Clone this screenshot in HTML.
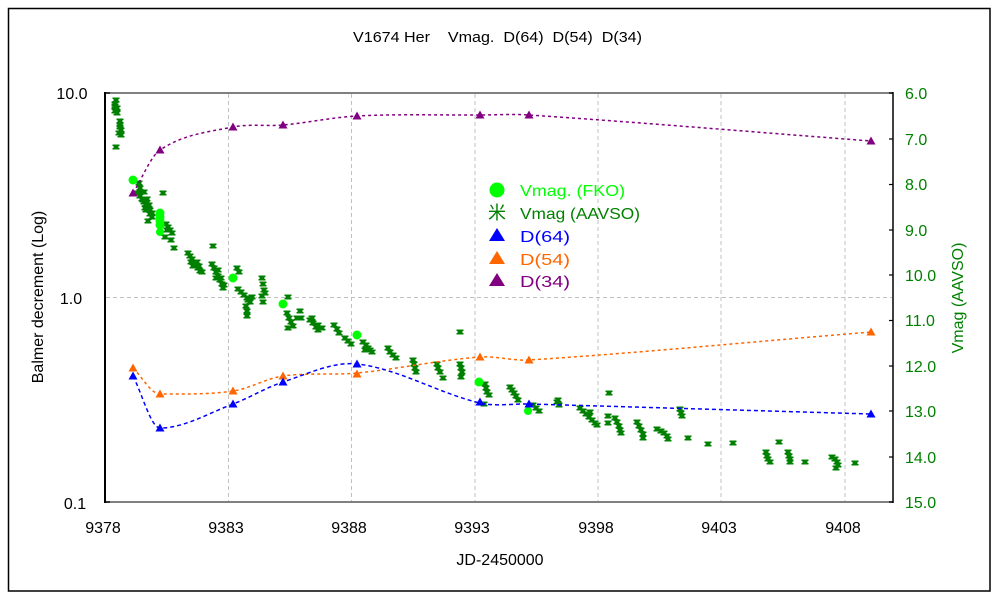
<!DOCTYPE html>
<html>
<head>
<meta charset="utf-8">
<style>
html,body{margin:0;padding:0;background:#fff;}
svg{display:block;}
text{font-family:"Liberation Sans","Noto Sans CJK JP",sans-serif;}
</style>
</head>
<body>
<svg width="1000" height="600" viewBox="0 0 1000 600" xmlns="http://www.w3.org/2000/svg">
<defs>
<g id="m"><path d="M-3.5 -2.5h7v1.5h-1v2h1v1.5h-7v-1.5h1v-2h-1z"/></g>
<g id="t"><path d="M0 -4.5L4.5 3.5H-4.5Z"/></g>
</defs>
<rect x="0" y="0" width="1000" height="600" fill="#fff"/>
<rect x="8.5" y="8.5" width="981.5" height="582.5" fill="none" stroke="#000" stroke-width="1.5"/>

<!-- title -->
<text x="353" y="42" font-size="15" textLength="289" lengthAdjust="spacingAndGlyphs" style="white-space:pre" fill="#000">V1674 Her    Vmag.  D(64)  D(54)  D(34)</text>

<!-- gridlines -->
<g stroke="#c0c0c0" stroke-width="1" stroke-dasharray="4 3">
<line x1="228.5" y1="94" x2="228.5" y2="501"/>
<line x1="351.5" y1="94" x2="351.5" y2="501"/>
<line x1="475" y1="94" x2="475" y2="501"/>
<line x1="598" y1="94" x2="598" y2="501"/>
<line x1="721" y1="94" x2="721" y2="501"/>
<line x1="845" y1="94" x2="845" y2="501"/>
<line x1="106" y1="297.5" x2="892" y2="297.5"/>
</g>

<!-- frame -->
<line x1="105" y1="93" x2="893" y2="93" stroke="#808080" stroke-width="2"/>
<line x1="105" y1="502" x2="893" y2="502" stroke="#808080" stroke-width="2"/>
<line x1="105" y1="92" x2="105" y2="503" stroke="#000" stroke-width="2"/>
<line x1="893" y1="92" x2="893" y2="503" stroke="#000" stroke-width="1.5"/>
<g stroke="#000" stroke-width="1.2">
<line x1="106" y1="93" x2="110" y2="93"/>
<line x1="106" y1="502" x2="110" y2="502"/>
<line x1="889" y1="93" x2="893" y2="93"/>
<line x1="889" y1="139" x2="893" y2="139"/>
<line x1="889" y1="184.5" x2="893" y2="184.5"/>
<line x1="889" y1="230" x2="893" y2="230"/>
<line x1="889" y1="275" x2="893" y2="275"/>
<line x1="889" y1="320.5" x2="893" y2="320.5"/>
<line x1="889" y1="366" x2="893" y2="366"/>
<line x1="889" y1="411" x2="893" y2="411"/>
<line x1="889" y1="457" x2="893" y2="457"/>
<line x1="889" y1="502" x2="893" y2="502"/>
</g>

<!-- left tick labels -->
<g font-size="16" fill="#000" text-anchor="middle">
<text x="72" y="99">10.0</text>
<text x="71" y="304">1.0</text>
<text x="75" y="509">0.1</text>
</g>
<!-- bottom tick labels -->
<g font-size="16" fill="#000" text-anchor="middle">
<text x="103" y="533">9378</text>
<text x="226" y="533">9383</text>
<text x="349" y="533">9388</text>
<text x="472" y="533">9393</text>
<text x="596" y="533">9398</text>
<text x="719" y="533">9403</text>
<text x="843" y="533">9408</text>
</g>
<text x="500" y="565" font-size="16" text-anchor="middle" fill="#000">JD-2450000</text>
<text transform="translate(43,297) rotate(-90)" font-size="16" text-anchor="middle" fill="#000">Balmer decrement (Log)</text>

<!-- right tick labels -->
<g font-size="16" fill="#008000">
<text x="905" y="99">6.0</text>
<text x="905" y="145">7.0</text>
<text x="905" y="190">8.0</text>
<text x="905" y="236">9.0</text>
<text x="905" y="281">10.0</text>
<text x="905" y="326">11.0</text>
<text x="905" y="372">12.0</text>
<text x="905" y="417">13.0</text>
<text x="905" y="463">14.0</text>
<text x="905" y="508">15.0</text>
</g>
<text transform="translate(963,298) rotate(-90)" font-size="16" text-anchor="middle" fill="#008000">Vmag (AAVSO)</text>

<!-- AAVSO points -->
<g fill="#008000">
<use href="#m" x="116" y="100"/><use href="#m" x="115" y="104"/><use href="#m" x="115" y="106"/><use href="#m" x="117" y="108"/><use href="#m" x="115" y="111"/><use href="#m" x="117" y="113"/>
<use href="#m" x="120" y="121"/><use href="#m" x="120" y="125"/><use href="#m" x="120" y="127"/><use href="#m" x="121" y="130"/><use href="#m" x="119" y="133"/><use href="#m" x="121" y="135"/><use href="#m" x="116" y="147"/>
<use href="#m" x="139" y="183"/><use href="#m" x="140" y="188"/><use href="#m" x="144" y="192"/><use href="#m" x="137" y="193"/><use href="#m" x="140" y="196"/><use href="#m" x="142" y="199"/><use href="#m" x="144" y="202"/><use href="#m" x="146" y="204"/><use href="#m" x="148" y="207"/><use href="#m" x="150" y="210"/><use href="#m" x="152" y="213"/><use href="#m" x="143" y="200"/><use href="#m" x="147" y="199"/><use href="#m" x="145" y="208"/><use href="#m" x="149" y="205"/><use href="#m" x="150" y="214"/><use href="#m" x="141" y="192"/><use href="#m" x="146" y="210"/>
<use href="#m" x="163" y="193"/><use href="#m" x="148" y="221"/><use href="#m" x="152" y="217"/>
<use href="#m" x="166" y="224"/><use href="#m" x="168" y="227"/><use href="#m" x="170" y="230"/><use href="#m" x="172" y="233"/><use href="#m" x="165" y="237"/><use href="#m" x="171" y="240"/><use href="#m" x="174" y="248"/><use href="#m" x="167" y="230"/>
<use href="#m" x="188" y="253"/><use href="#m" x="190" y="256"/><use href="#m" x="192" y="259"/><use href="#m" x="194" y="262"/><use href="#m" x="196" y="265"/><use href="#m" x="198" y="268"/><use href="#m" x="200" y="271"/><use href="#m" x="202" y="272"/><use href="#m" x="193" y="266"/><use href="#m" x="197" y="262"/><use href="#m" x="191" y="262"/><use href="#m" x="199" y="266"/>
<use href="#m" x="213" y="246"/><use href="#m" x="212" y="264"/><use href="#m" x="214" y="268"/><use href="#m" x="216" y="272"/><use href="#m" x="218" y="276"/><use href="#m" x="220" y="280"/><use href="#m" x="222" y="284"/><use href="#m" x="223" y="288"/><use href="#m" x="218" y="270"/><use href="#m" x="221" y="278"/><use href="#m" x="224" y="285"/><use href="#m" x="216" y="278"/>
<use href="#m" x="237" y="268"/><use href="#m" x="239" y="272"/><use href="#m" x="238" y="289"/><use href="#m" x="241" y="292"/><use href="#m" x="244" y="295"/><use href="#m" x="247" y="298"/><use href="#m" x="250" y="302"/><use href="#m" x="252" y="297"/><use href="#m" x="246" y="306"/><use href="#m" x="247" y="311"/><use href="#m" x="247" y="316"/><use href="#m" x="248" y="300"/>
<use href="#m" x="262" y="278"/><use href="#m" x="263" y="284"/><use href="#m" x="264" y="290"/><use href="#m" x="262" y="296"/><use href="#m" x="263" y="302"/><use href="#m" x="265" y="293"/>
<use href="#m" x="288" y="297"/><use href="#m" x="288" y="328"/><use href="#m" x="287" y="313"/><use href="#m" x="289" y="318"/><use href="#m" x="291" y="322"/><use href="#m" x="293" y="326"/><use href="#m" x="297" y="318"/>
<use href="#m" x="300" y="311"/><use href="#m" x="301" y="318"/><use href="#m" x="310" y="320"/><use href="#m" x="312" y="318"/><use href="#m" x="313" y="323"/><use href="#m" x="316" y="327"/><use href="#m" x="318" y="325"/><use href="#m" x="318" y="330"/><use href="#m" x="322" y="328"/>
<use href="#m" x="334" y="325"/><use href="#m" x="337" y="329"/><use href="#m" x="339" y="333"/><use href="#m" x="345" y="338"/><use href="#m" x="348" y="341"/><use href="#m" x="351" y="344"/>
<use href="#m" x="363" y="342"/><use href="#m" x="366" y="345"/><use href="#m" x="368" y="348"/><use href="#m" x="370" y="350"/><use href="#m" x="372" y="352"/><use href="#m" x="365" y="350"/>
<use href="#m" x="388" y="348"/><use href="#m" x="390" y="352"/><use href="#m" x="393" y="355"/><use href="#m" x="396" y="358"/>
<use href="#m" x="413" y="360"/><use href="#m" x="414" y="364"/><use href="#m" x="415" y="368"/><use href="#m" x="416" y="372"/>
<use href="#m" x="437" y="364"/><use href="#m" x="438" y="368"/><use href="#m" x="440" y="372"/><use href="#m" x="443" y="378"/>
<use href="#m" x="460" y="332"/><use href="#m" x="460" y="364"/><use href="#m" x="461" y="368"/><use href="#m" x="462" y="372"/><use href="#m" x="461" y="377"/>
<use href="#m" x="485" y="384"/><use href="#m" x="486" y="388"/><use href="#m" x="487" y="392"/><use href="#m" x="489" y="395"/><use href="#m" x="484" y="404"/>
<use href="#m" x="510" y="387"/><use href="#m" x="512" y="390"/><use href="#m" x="514" y="393"/><use href="#m" x="516" y="396"/><use href="#m" x="518" y="400"/>
<use href="#m" x="533" y="405"/><use href="#m" x="536" y="408"/><use href="#m" x="539" y="411"/><use href="#m" x="557" y="402"/><use href="#m" x="558" y="400"/><use href="#m" x="559" y="405"/>
<use href="#m" x="580" y="408"/><use href="#m" x="583" y="411"/><use href="#m" x="586" y="414"/><use href="#m" x="589" y="417"/><use href="#m" x="592" y="420"/><use href="#m" x="595" y="423"/><use href="#m" x="597" y="425"/><use href="#m" x="590" y="412"/>
<use href="#m" x="609" y="393"/><use href="#m" x="608" y="416"/><use href="#m" x="608" y="423"/><use href="#m" x="615" y="418"/><use href="#m" x="617" y="422"/><use href="#m" x="619" y="426"/><use href="#m" x="620" y="430"/><use href="#m" x="621" y="433"/>
<use href="#m" x="637" y="422"/><use href="#m" x="639" y="426"/><use href="#m" x="641" y="430"/><use href="#m" x="643" y="434"/><use href="#m" x="643" y="438"/>
<use href="#m" x="657" y="429"/><use href="#m" x="661" y="431"/><use href="#m" x="664" y="433"/><use href="#m" x="667" y="436"/><use href="#m" x="668" y="439"/>
<use href="#m" x="680" y="409"/><use href="#m" x="681" y="413"/><use href="#m" x="682" y="416"/><use href="#m" x="688" y="438"/><use href="#m" x="708" y="444"/><use href="#m" x="733" y="443"/>
<use href="#m" x="766" y="452"/><use href="#m" x="767" y="456"/><use href="#m" x="768" y="459"/><use href="#m" x="770" y="462"/><use href="#m" x="779" y="442"/>
<use href="#m" x="788" y="452"/><use href="#m" x="789" y="456"/><use href="#m" x="790" y="459"/><use href="#m" x="790" y="462"/><use href="#m" x="805" y="462"/>
<use href="#m" x="832" y="457"/><use href="#m" x="835" y="459"/><use href="#m" x="837" y="462"/><use href="#m" x="838" y="465"/><use href="#m" x="836" y="468"/><use href="#m" x="855" y="463"/>
</g>

<!-- FKO points -->
<g fill="#00ff00">
<circle cx="133" cy="180" r="4.5"/>
<circle cx="160" cy="213" r="4.5"/><circle cx="160" cy="217" r="4.5"/><circle cx="160" cy="221" r="4.5"/><circle cx="160" cy="225" r="4.5"/>
<circle cx="160" cy="232" r="4"/>
<circle cx="233" cy="278" r="4.5"/>
<circle cx="283" cy="304" r="4.5"/>
<circle cx="357" cy="335" r="4.5"/>
<circle cx="479" cy="382" r="4.5"/>
<circle cx="528" cy="411" r="4"/>
</g>

<!-- D(34) -->
<path d="M133 193C142 178.7 151 155.9 160 150C184.3 133.9 208.7 131.9 233 127C249.7 123.6 266.3 126.5 283 125C307.7 122.8 332.3 117.3 357 116C398 113.9 439 115.2 480 115C496.3 114.9 512.7 113.9 529 115C643 122.6 757 132.3 871 141" fill="none" stroke="#800080" stroke-width="1.5" stroke-dasharray="3 3"/>
<!-- D(54) -->
<path d="M133 368C142 376.7 151 394 160 394C184.3 394 208.7 394.6 233 391C249.7 388.6 266.3 378.4 283 376C307.7 372.4 332.3 375.4 357 373C398 369 439 360.1 480 357C496.3 355.8 512.7 361 529 360C643 352.7 757 341.3 871 332" fill="none" stroke="#ff6600" stroke-width="1.5" stroke-dasharray="3 3"/>
<!-- D(64) -->
<path d="M133 376C142 393.3 151 428 160 428C184.3 428 208.7 413.1 233 404C249.7 397.8 266.3 387.4 283 382C307.7 374 332.3 361.4 357 364C398 368.4 439 393.5 480 403C496.3 406.8 512.7 403.5 529 404C643 407.2 757 410.7 871 414" fill="none" stroke="#0000ff" stroke-width="1.5" stroke-dasharray="4 3"/>

<!-- triangles -->
<g fill="#800080">
<use href="#t" x="133" y="193"/><use href="#t" x="160" y="150"/><use href="#t" x="233" y="127"/><use href="#t" x="283" y="125"/><use href="#t" x="357" y="116"/><use href="#t" x="480" y="115"/><use href="#t" x="529" y="115"/><use href="#t" x="871" y="141"/>
</g>
<g fill="#ff6600">
<use href="#t" x="133" y="368"/><use href="#t" x="160" y="394"/><use href="#t" x="233" y="391"/><use href="#t" x="283" y="376"/><use href="#t" x="357" y="374"/><use href="#t" x="480" y="357"/><use href="#t" x="529" y="360"/><use href="#t" x="871" y="332"/>
</g>
<g fill="#0000ff">
<use href="#t" x="133" y="376"/><use href="#t" x="160" y="428"/><use href="#t" x="233" y="404"/><use href="#t" x="283" y="382"/><use href="#t" x="357" y="364"/><use href="#t" x="480" y="402"/><use href="#t" x="529" y="404"/><use href="#t" x="871" y="414"/>
</g>

<!-- legend -->
<circle cx="497" cy="190" r="7.5" fill="#00ff00"/>
<text x="520" y="196" font-size="16" fill="#00ff00" textLength="105" lengthAdjust="spacingAndGlyphs">Vmag. (FKO)</text>
<text x="497" y="219" font-size="18" fill="#008000" text-anchor="middle" style="font-family:'Noto Sans CJK JP',sans-serif">米</text>
<text x="520" y="219" font-size="16" fill="#008000" textLength="120" lengthAdjust="spacingAndGlyphs">Vmag  (AAVSO)</text>
<path d="M497 228L505 241H489Z" fill="#0000ff"/>
<text x="520" y="242" font-size="16" fill="#0000ff" textLength="50" lengthAdjust="spacingAndGlyphs">D(64)</text>
<path d="M497 251L505 264H489Z" fill="#ff6600"/>
<text x="520" y="265" font-size="16" fill="#ff6600" textLength="50" lengthAdjust="spacingAndGlyphs">D(54)</text>
<path d="M497 273L505 286H489Z" fill="#800080"/>
<text x="520" y="287" font-size="16" fill="#800080" textLength="50" lengthAdjust="spacingAndGlyphs">D(34)</text>
</svg>
</body>
</html>
